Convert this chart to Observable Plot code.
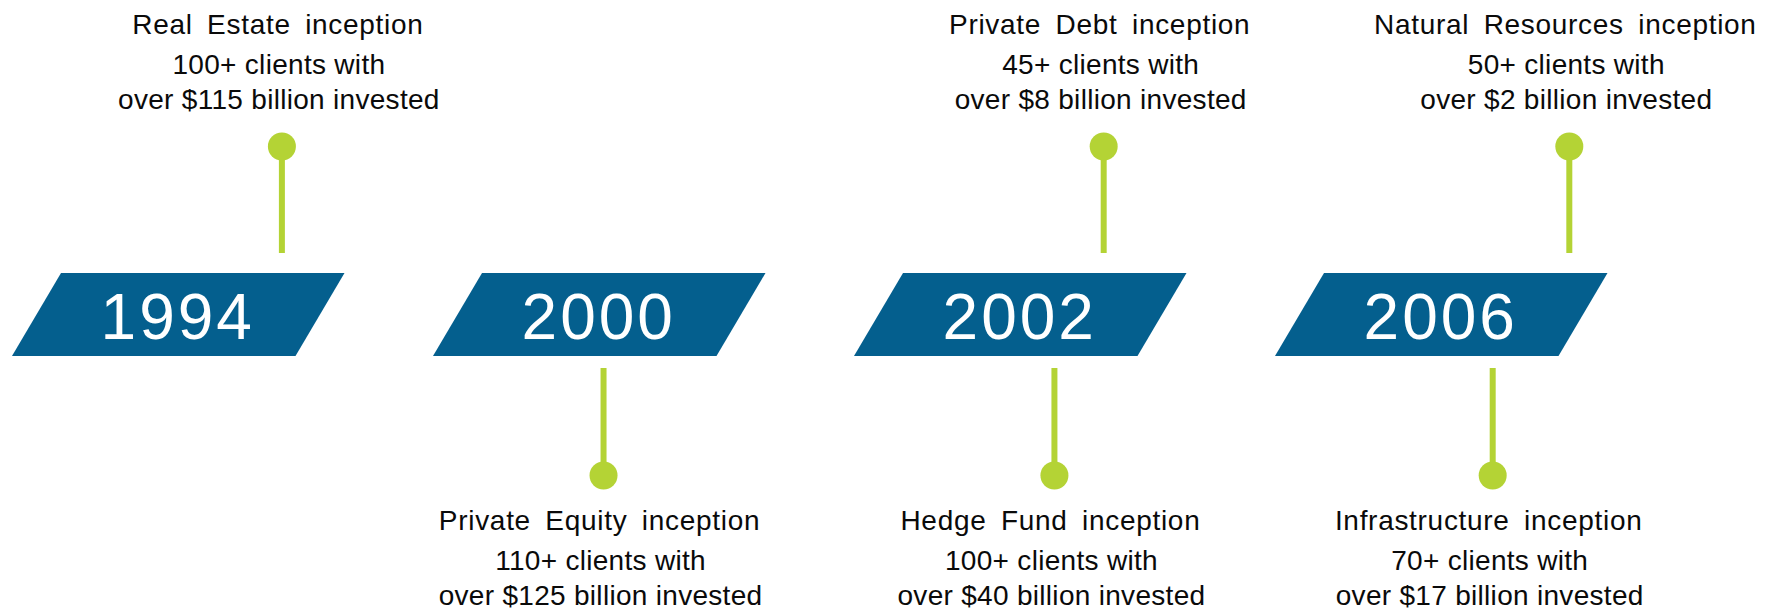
<!DOCTYPE html>
<html>
<head>
<meta charset="utf-8">
<script src="https://cdn.jsdelivr.net/npm/d3@7"></script>
<script src="https://cdn.jsdelivr.net/npm/@observablehq/plot@0.6"></script>
<style>
  html, body { margin: 0; padding: 0; background: #ffffff; overflow: hidden; }
  #chart svg { display: block; }
</style>
</head>
<body>
<div id="chart"></div>
<script>
// ---------------- DATA ----------------
const years = ["1994", "2000", "2002", "2006"];
const eventNames = ["Real Estate", "Private Equity", "Private Debt", "Hedge Fund", "Natural Resources", "Infrastructure"];
const eventYears = ["1994", "2000", "2002", "2002", "2006", "2006"];
const eventSides = ["top", "bottom", "top", "bottom", "top", "bottom"];
const clientCounts = ["100+", "110+", "45+", "100+", "50+", "70+"];
const investedBillions = [115, 125, 8, 40, 2, 17];

// ---------------- LAYOUT ----------------
const W = 1772, H = 610;
const slotSpacing = 421, firstSlotCenter = 178.25;      // px, one slot per year
const bandWidth = 283.5 / slotSpacing;                   // in slot units
const bandSkew = 49 / slotSpacing;                       // in slot units
const bandTop = 273, bandBottom = 356, yearBaseline = 338.5;
// position of each event's pin relative to its year's slot centre (slot units)
const stemOffset = {
  "Real Estate": 0.245, "Private Equity": 0.009, "Private Debt": 0.197,
  "Hedge Fund": 0.080, "Natural Resources": 0.303, "Infrastructure": 0.121
};
const topDotY = 146, topStemEnd = 253, bottomStemStart = 368, bottomDotY = 475;
const topTitleY = 33, topDetailY = 108, bottomTitleY = 529, bottomDetailY = 604;

const BLUE = "#045f8e", GREEN = "#b4d335", INK = "#0a0a0a";

// ---------------- TABLES ----------------
const events = eventNames.map((name, i) => ({
  name,
  year: eventYears[i],
  side: eventSides[i],
  clients: clientCounts[i],
  amount: investedBillions[i],
  pos: years.indexOf(eventYears[i]) + stemOffset[name]
}));

const bandRows = years.flatMap((y, i) => [
  {year: y, yy: bandTop,    x1: i - bandWidth / 2 + bandSkew / 2, x2: i + bandWidth / 2 + bandSkew / 2},
  {year: y, yy: bandBottom, x1: i - bandWidth / 2 - bandSkew / 2, x2: i + bandWidth / 2 - bandSkew / 2}
]);

const isTop = d => d.side === "top";

const chart = Plot.plot({
  width: W,
  height: H,
  margin: 0,
  x: {domain: [-firstSlotCenter / slotSpacing, (W - firstSlotCenter) / slotSpacing], range: [0, W], axis: null},
  y: {domain: [0, H], range: [0, H], axis: null},
  style: {fontFamily: "'Liberation Sans', Arial, sans-serif", background: "#ffffff", color: INK},
  marks: [
    // year parallelograms
    Plot.areaX(bandRows, {x1: "x1", x2: "x2", y: "yy", z: "year", fill: BLUE, curve: "linear"}),
    // stems
    Plot.ruleX(events, {
      x: "pos",
      y1: d => isTop(d) ? topDotY : bottomStemStart,
      y2: d => isTop(d) ? topStemEnd : bottomDotY,
      stroke: GREEN, strokeWidth: 6
    }),
    // pins
    Plot.dot(events, {x: "pos", y: d => isTop(d) ? topDotY : bottomDotY, r: 14, fill: GREEN, stroke: null}),
    // year labels
    Plot.text(years, {
      x: (d, i) => i, y: () => yearBaseline, text: d => d,
      fill: "#ffffff", fontSize: 64, lineAnchor: "bottom", textAnchor: "middle", dx: -1
    }),
    // event titles
    Plot.text(events, {
      x: "pos", y: d => isTop(d) ? topTitleY : bottomTitleY,
      text: d => `${d.name} inception`,
      fill: INK, fontSize: 28, lineAnchor: "bottom", textAnchor: "middle", dx: -4
    }),
    // event details
    Plot.text(events, {
      x: "pos", y: d => isTop(d) ? topDetailY : bottomDetailY,
      text: d => `${d.clients} clients with\nover $${d.amount} billion invested`,
      fill: INK, fontSize: 28, lineHeight: 35 / 28, lineAnchor: "bottom", textAnchor: "middle", dx: -3
    })
  ]
});

document.getElementById("chart").appendChild(chart);

// letter spacing per text group (marks render in order)
const textGroups = d3.select(chart).selectAll('g[aria-label="text"]').nodes();
if (textGroups[0]) d3.select(textGroups[0]).style("letter-spacing", "3px");
if (textGroups[1]) d3.select(textGroups[1]).style("letter-spacing", "0.7px").style("word-spacing", "6px");
if (textGroups[2]) d3.select(textGroups[2]).style("letter-spacing", "0.3px");
</script>
</body>
</html>
